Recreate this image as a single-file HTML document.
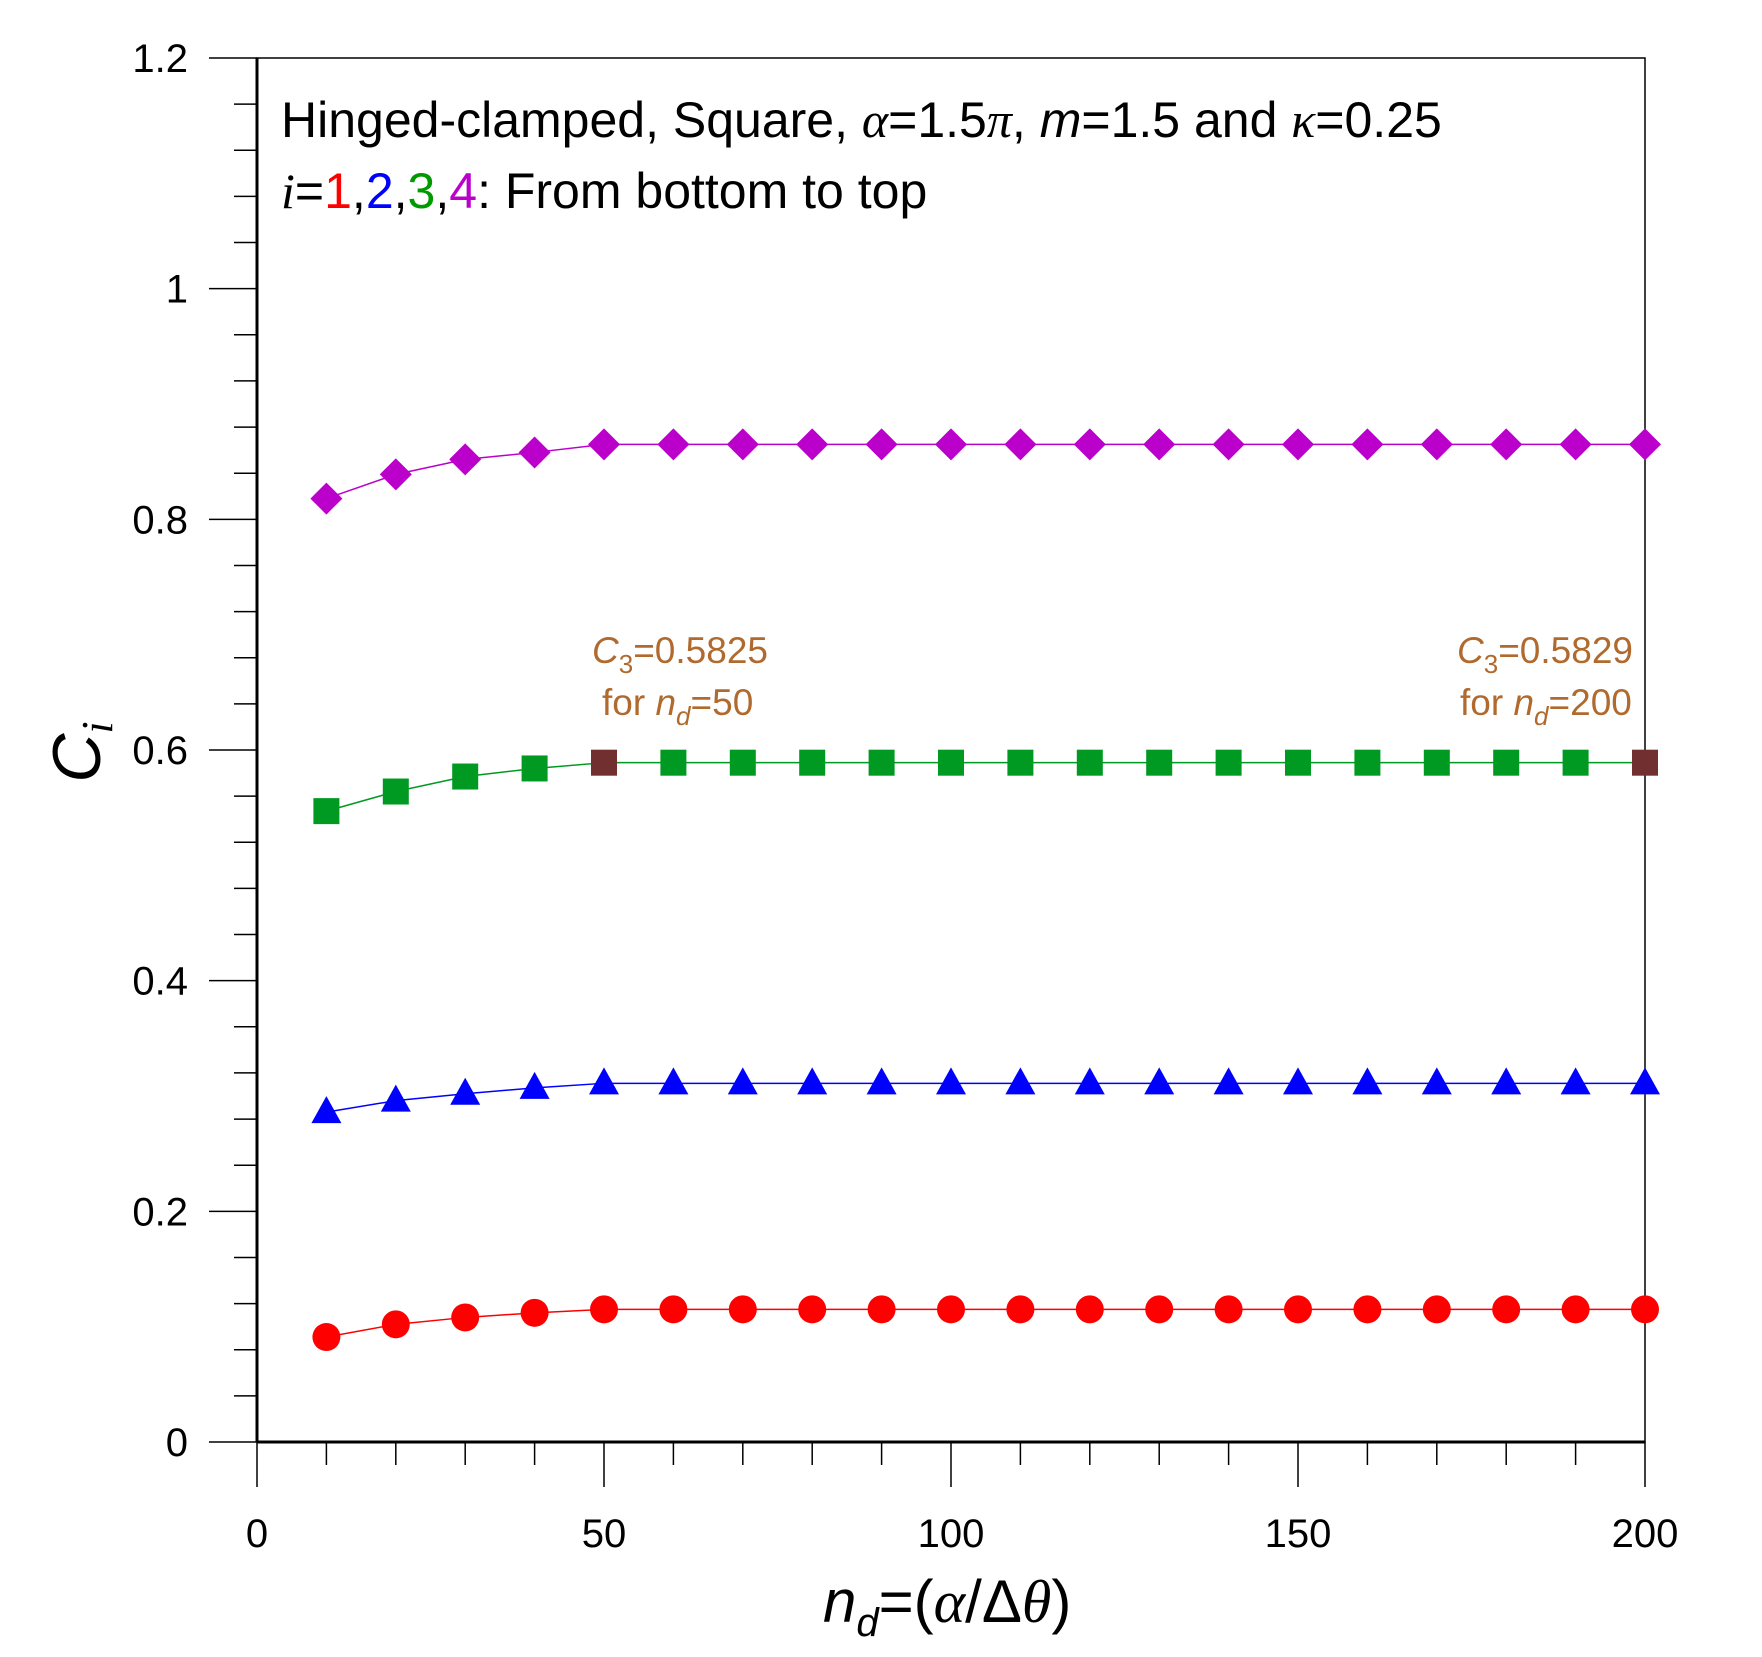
<!DOCTYPE html>
<html><head><meta charset="utf-8"><style>
body{margin:0;background:#fff}
svg{display:block;font-family:"Liberation Sans",sans-serif}
</style></head><body>
<svg id="chart" width="1762" height="1657" viewBox="0 0 1762 1657" xmlns="http://www.w3.org/2000/svg">
<g id="axes"></g>
<g id="series"></g>
<text x="281" y="137" font-size="50">Hinged-clamped, Square, <tspan font-family="Liberation Serif" font-style="italic">α</tspan>=1.5<tspan font-family="Liberation Serif" font-style="italic">π</tspan>, <tspan font-style="italic">m</tspan>=1.5 and <tspan font-family="Liberation Serif" font-style="italic">κ</tspan>=0.25</text>
<text x="281" y="208" font-size="50"><tspan font-family="Liberation Serif" font-style="italic">i</tspan>=<tspan fill="#ff0000">1</tspan>,<tspan fill="#0000ff">2</tspan>,<tspan fill="#009900">3</tspan>,<tspan fill="#bb00cc">4</tspan>: From bottom to top</text>
<g fill="#b06a2e" font-size="37">
<text x="592" y="663"><tspan font-style="italic">C</tspan><tspan font-size="26" dy="10">3</tspan><tspan dy="-10">=0.5825</tspan></text>
<text x="602" y="715">for <tspan font-style="italic">n</tspan><tspan font-size="26" font-style="italic" dy="10">d</tspan><tspan dy="-10">=50</tspan></text>
</g>
<g fill="#b06a2e" font-size="37">
<text x="1457" y="663"><tspan font-style="italic">C</tspan><tspan font-size="26" dy="10">3</tspan><tspan dy="-10">=0.5829</tspan></text>
<text x="1460" y="715">for <tspan font-style="italic">n</tspan><tspan font-size="26" font-style="italic" dy="10">d</tspan><tspan dy="-10">=200</tspan></text>
</g>
<text x="823" y="1622" font-size="60"><tspan font-style="italic">n</tspan><tspan font-style="italic" font-size="40" dy="14">d</tspan><tspan dy="-14">=(</tspan><tspan font-family="Liberation Serif" font-style="italic">α</tspan>/Δ<tspan font-family="Liberation Serif" font-style="italic">θ</tspan>)</text>
<text transform="translate(100,752) rotate(-90)" font-size="68" text-anchor="middle" font-style="italic">C<tspan font-family="Liberation Serif" font-size="44" dy="12">i</tspan></text>
</svg>
<script>
const xs=[10,20,30,40,50,60,70,80,90,100,110,120,130,140,150,160,170,180,190,200];
const c1=[0.091,0.102,0.108,0.112,0.115,0.115,0.115,0.115,0.115,0.115,0.115,0.115,0.115,0.115,0.115,0.115,0.115,0.115,0.115,0.115];
const c2=[0.286,0.296,0.302,0.307,0.311,0.311,0.311,0.311,0.311,0.311,0.311,0.311,0.311,0.311,0.311,0.311,0.311,0.311,0.311,0.311];
const c3=[0.547,0.564,0.577,0.584,0.589,0.589,0.589,0.589,0.589,0.589,0.589,0.589,0.589,0.589,0.589,0.589,0.589,0.589,0.589,0.589];
const c4=[0.818,0.839,0.852,0.858,0.865,0.865,0.865,0.865,0.865,0.865,0.865,0.865,0.865,0.865,0.865,0.865,0.865,0.865,0.865,0.865];
const yTicks=[0,0.2,0.4,0.6,0.8,1,1.2];
const yTickLabels=["0","0.2","0.4","0.6","0.8","1","1.2"];
const xTicks=[0,50,100,150,200];
const xTickLabels=["0","50","100","150","200"];
const NS="http://www.w3.org/2000/svg";
const L=257,R=1645,T=58,B=1442;
const sx=v=>L+(v-0)/200*(R-L);
const sy=v=>B-(v-0)/1.2*(B-T);
function mk(tag,attrs,parent){const e=document.createElementNS(NS,tag);for(const k in attrs)e.setAttribute(k,attrs[k]);parent.appendChild(e);return e;}
const ax=document.getElementById('axes');
let f=mk('rect',{x:L,y:T,width:R-L,height:B-T,fill:'none',stroke:'#000','stroke-width':1.5},ax);


mk('line',{x1:L,y1:B,x2:R,y2:B,stroke:'#000','stroke-width':3},ax);
mk('line',{x1:L,y1:T,x2:L,y2:B,stroke:'#000','stroke-width':3},ax);
for(let k=0;k<=30;k++){const v=k*0.04;const y=sy(v);const major=k%5===0;
 const t=mk('line',{x1:major?209:234,y1:y,x2:L,y2:y,stroke:'#000','stroke-width':1.5},ax);
 
 }
yTicks.forEach((v,i)=>{const t=mk('text',{x:188,y:sy(v)+14,'font-size':40,'text-anchor':'end'},ax);t.textContent=yTickLabels[i];
 
 });
for(let v=0;v<=200;v+=10){const x=sx(v);const major=v%50===0;
 const t=mk('line',{x1:x,y1:B,x2:x,y2:major?1487:1465,stroke:'#000','stroke-width':1.5},ax);
 
 }
xTicks.forEach((v,i)=>{const t=mk('text',{x:sx(v),y:1547,'font-size':40,'text-anchor':'middle'},ax);t.textContent=xTickLabels[i];
 
 });
const sg=document.getElementById('series');
function series(data,color,shape,name){
 const g=mk('g',{},sg);
 
 
 mk('polyline',{points:xs.map((x,i)=>sx(x)+','+sy(data[i])).join(' '),fill:'none',stroke:color,'stroke-width':1.5},g);
 xs.forEach((x,i)=>{const cx=sx(x),cy=sy(data[i]);let m;
  let col=color;
  if(shape==='sq'&&(x===50||x===200))col='#722f2f';
  if(shape==='c')m=mk('circle',{cx,cy,r:14,fill:col},g);
  else if(shape==='t')m=mk('polygon',{points:`${cx},${cy-16} ${cx+15},${cy+11} ${cx-15},${cy+11}`,fill:col},g);
  else if(shape==='sq')m=mk('rect',{x:cx-13,y:cy-13,width:26,height:26,fill:col},g);
  else m=mk('polygon',{points:`${cx},${cy-16} ${cx+16},${cy} ${cx},${cy+16} ${cx-16},${cy}`,fill:col},g);
  
  
 });
}
series(c1,'#ff0000','c','series-i1');
series(c2,'#0000ff','t','series-i2');
series(c3,'#009922','sq','series-i3');
series(c4,'#bb00cc','d','series-i4');
</script>
</body></html>
